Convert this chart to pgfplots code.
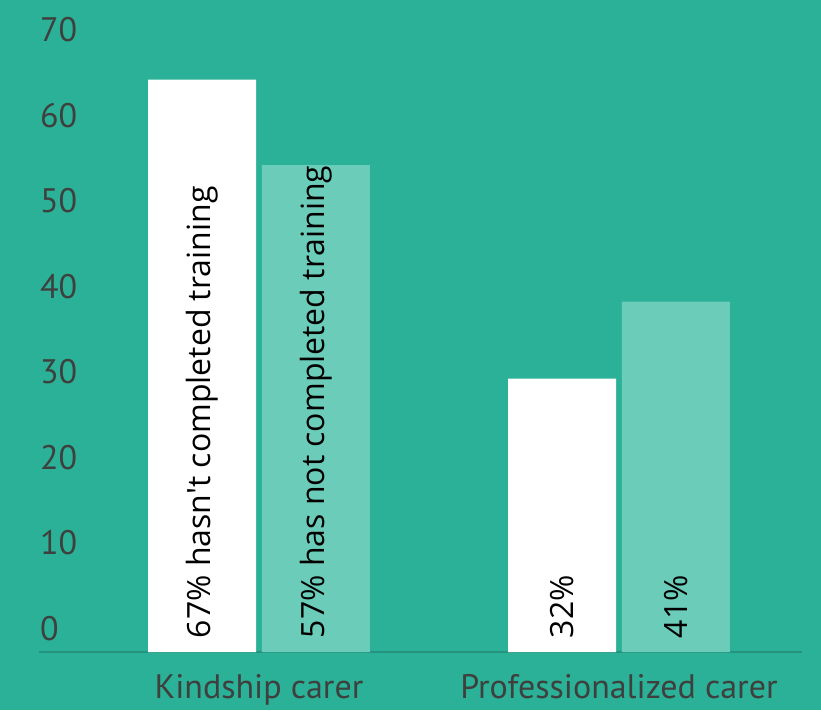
\documentclass[border=0pt]{standalone}
\usepackage{pgfplots}
\pgfplotsset{compat=1.18}
\usepackage{fontspec}
\setmainfont{PT Sans}
\newfontfamily\opensans{Open Sans}
\definecolor{bg}{RGB}{43,177,151}
\definecolor{lightbar}{RGB}{107,205,185}
\definecolor{baseline}{RGB}{36,148,126}
\definecolor{ticktext}{RGB}{62,64,62}
\begin{document}
\begin{tikzpicture}
\fill[bg] (-39pt,-58pt) rectangle (782pt,652pt);
\begin{axis}[
  at={(0pt,0pt)}, anchor=south west,
  x=360pt, y=8.5429pt,
  xmin=-0.6111, xmax=1.5083, ymin=0, ymax=70,
  axis x line*=bottom, axis y line*=left,
  y axis line style={draw=none},
  x axis line style={draw=baseline, line width=2.5pt},
  tick style={draw=none},
  xtick={0,1}, xticklabels={Kindship carer, Professionalized carer},
  ytick={0,10,...,70},
  /pgf/number format/assume math mode=true,
  ticklabel style={font=\fontsize{34}{40}\selectfont, text=ticktext},
  yticklabel style={anchor=base west, inner sep=0pt, xshift=1pt, yshift=12pt},
  xticklabel style={anchor=base, inner sep=0pt, yshift=-46pt},
  clip=false,
]
\addplot[ybar, bar width=0.3, bar shift=-0.1583, fill=white, draw=none] coordinates {(0,67) (1,32)};
\addplot[ybar, bar width=0.3, bar shift=0.1583, fill=lightbar, draw=none] coordinates {(0,57) (1,41)};
\addplot[draw=none, mark=none, point meta=explicit symbolic,
  nodes near coords,
  every node near coord/.append style={rotate=90, anchor=west, inner sep=0pt, font=\opensans\fontsize{32}{40}\selectfont, text=black}]
  coordinates {(-0.1583,1.6)[67\% hasn't completed training] (0.1583,1.6)[57\% has not completed training] (0.8417,1.6)[32\%] (1.1583,1.6)[41\%]};
\end{axis}
\pgfresetboundingbox
\useasboundingbox (-39pt,-58pt) rectangle (782pt,652pt);
\end{tikzpicture}
\end{document}
